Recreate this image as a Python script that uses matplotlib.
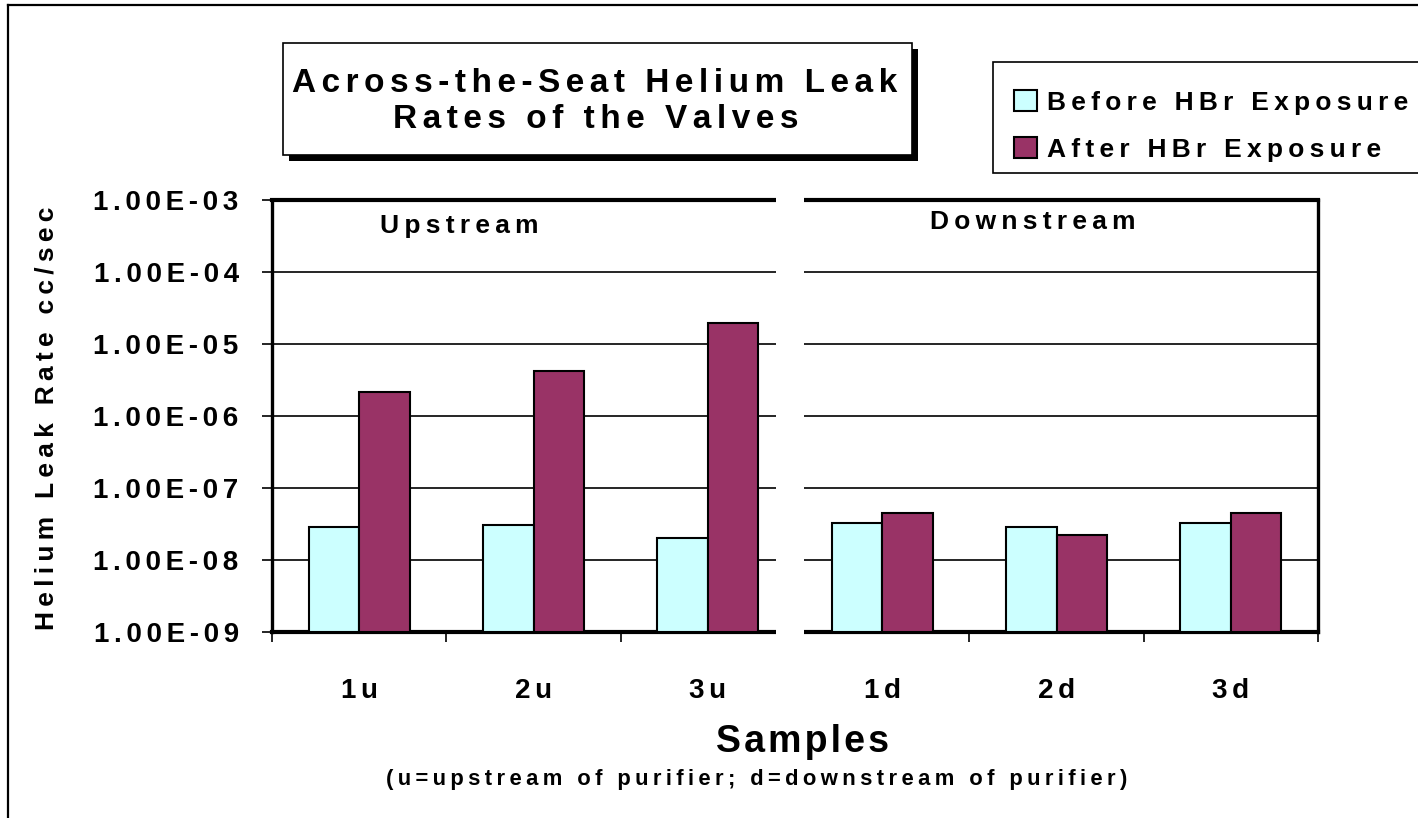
import numpy as np
import matplotlib
matplotlib.use("Agg")
import matplotlib.pyplot as plt
from matplotlib.patches import Rectangle
from matplotlib.lines import Line2D
from matplotlib.ticker import FixedLocator, FuncFormatter, NullLocator
import matplotlib.transforms as mtransforms

# dane
samples = ["1u", "2u", "3u", "1d", "2d", "3d"]
before = [2.8e-8, 2.95e-8, 1.95e-8, 3.2e-8, 2.8e-8, 3.2e-8]
after = [2.15e-6, 4.2e-6, 1.95e-5, 4.4e-8, 2.1e-8, 4.4e-8]
series_labels = ["Before HBr Exposure", "After HBr Exposure"]
y_ticks = [1e-9, 1e-8, 1e-7, 1e-6, 1e-5, 1e-4, 1e-3]

C_BEFORE = "#CCFFFF"
C_AFTER = "#993366"
W, H = 1418, 818

THIN = "\u2009"   # ~0.2 em
SIXTH = "\u2006"  # ~0.17 em
HAIR = "\u200a"   # ~0.1 em

plt.rcParams["font.family"] = ["Liberation Sans", "DejaVu Sans"]
plt.rcParams["font.weight"] = "bold"


def sp(s, gap=THIN):
    """Rozstrzelony tekst (jak w oryginale)."""
    return gap.join(s)


def fx(px):
    return px / W


def fy(py):
    return 1 - py / H


fig = plt.figure(figsize=(W / 100, H / 100), dpi=100)
ax = fig.add_axes([fx(272), fy(632), fx(1318) - fx(272), fy(200) - fy(632)])

x = np.arange(len(samples)) + 0.5
bw = 0.29
ax.bar(x - 0.145, before, bw, bottom=1e-9, color=C_BEFORE, edgecolor="black",
       linewidth=1.5, zorder=3, label=series_labels[0])
ax.bar(x + 0.145, after, bw, bottom=1e-9, color=C_AFTER, edgecolor="black",
       linewidth=1.5, zorder=3, label=series_labels[1])

ax.set_yscale("log")
ax.set_ylim(1e-9, 1e-3)
ax.set_xlim(0, len(samples))
ax.yaxis.set_major_locator(FixedLocator(y_ticks))
ax.yaxis.set_minor_locator(NullLocator())
ax.yaxis.set_major_formatter(FuncFormatter(lambda v, p: sp(f"{v:.2E}", SIXTH)))
ax.tick_params(axis="y", which="major", length=7, width=1.2, pad=17,
               labelsize=20, direction="out")
ax.grid(axis="y", color="black", linewidth=1.2, zorder=1)

ax.set_xticks(np.arange(len(samples) + 1))
ax.set_xticklabels([])
ax.set_xticks(x, minor=True)
ax.set_xticklabels([sp(s, SIXTH) for s in samples], minor=True)
ax.tick_params(axis="x", which="major", length=7, width=1.2, direction="out")
ax.tick_params(axis="x", which="minor", length=0, pad=33, labelsize=20)

ax.spines["left"].set_linewidth(2.4)
ax.spines["right"].set_linewidth(2.4)
ax.spines["top"].set_linewidth(3)
ax.spines["bottom"].set_linewidth(3)

# biała przerwa między Upstream i Downstream
trans = mtransforms.blended_transform_factory(ax.transData, ax.transAxes)
ax.add_patch(Rectangle((2.89, -0.03), 0.16, 1.06, transform=trans,
                       facecolor="white", edgecolor="none", clip_on=False, zorder=10))

ax.text(fx(380), fy(226), sp("Upstream"), transform=fig.transFigure,
        fontsize=19, va="center", ha="left")
ax.text(fx(930), fy(222), sp("Downstream"), transform=fig.transFigure,
        fontsize=19, va="center", ha="left")

# tytuł w ramce z cieniem
fig.patches.append(Rectangle((fx(289), fy(161)), fx(629), 112 / H, transform=fig.transFigure,
                             facecolor="black", edgecolor="none", zorder=1))
fig.patches.append(Rectangle((fx(283), fy(155)), fx(629), 112 / H, transform=fig.transFigure,
                             facecolor="white", edgecolor="black", linewidth=1.2, zorder=2))
fig.text(fx(595), fy(84), sp("Across-the-Seat Helium Leak", SIXTH), fontsize=24,
         ha="center", va="center", zorder=3)
fig.text(fx(596), fy(119), sp("Rates of the Valves", SIXTH), fontsize=24,
         ha="center", va="center", zorder=3)

# legenda - ramka osobno, bo wychodzi poza prawą krawędź rysunku
fig.patches.append(Rectangle((fx(993), fy(173)), fx(440), 111 / H, transform=fig.transFigure,
                             facecolor="white", edgecolor="black", linewidth=1.2, zorder=1))
handles, labels = ax.get_legend_handles_labels()
leg = fig.legend(handles, [sp(l) for l in labels], loc="upper left",
                 bbox_to_anchor=(fx(993), fy(69)), fontsize=19, frameon=False,
                 handlelength=0.85, handleheight=0.85, handletextpad=0.4,
                 labelspacing=0.85, borderpad=0.8, borderaxespad=0)

# podpisy osi
fig.text(fx(47), fy(418), sp("Helium Leak Rate cc/sec"), rotation=90,
         fontsize=19, ha="center", va="center")
fig.text(fx(802), fy(742), sp("Samples", HAIR), fontsize=27, ha="center", va="center")
fig.text(fx(757), fy(780), sp("(u=upstream of purifier; d=downstream of purifier)"),
         fontsize=15.8, ha="center", va="center")

# ramka zewnętrzna (widoczna tylko góra i lewa krawędź)
fig.add_artist(Line2D([fx(8), 1], [fy(5), fy(5)], color="black", linewidth=1.6))
fig.add_artist(Line2D([fx(8), fx(8)], [0, fy(5)], color="black", linewidth=1.6))

fig.savefig("out.png", dpi=100)
